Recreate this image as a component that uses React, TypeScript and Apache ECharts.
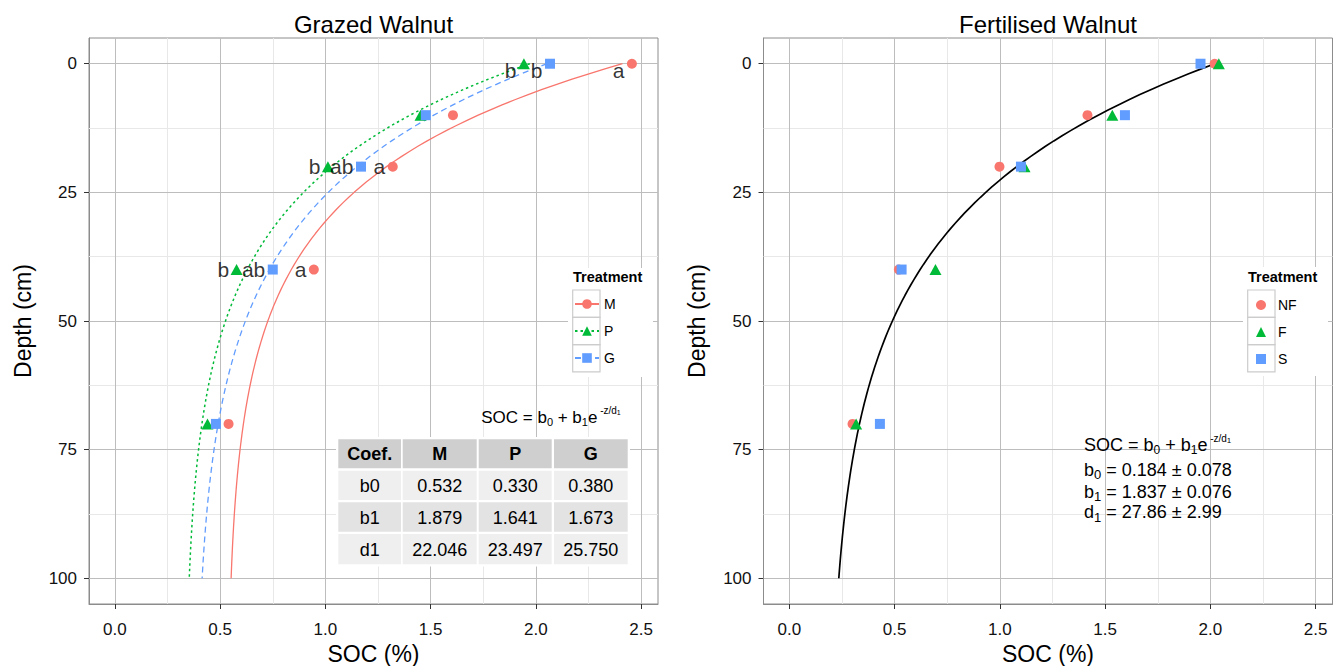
import React, { useEffect, useRef } from 'react';
import * as echarts from 'echarts';

// ---------------- data ----------------
const depths = [0, 10, 20, 40, 70];
const grazedM = [2.456, 1.606, 1.32, 0.945, 0.54];
const grazedP = [1.943, 1.452, 1.012, 0.578, 0.44];
const grazedG = [2.067, 1.477, 1.169, 0.75, 0.48];
const lettersM = ['a', '', 'a', 'a', ''];
const lettersP = ['b', '', 'b', 'b', ''];
const lettersG = ['b', '', 'ab', 'ab', ''];
const fertNF = [2.02, 1.416, 0.998, 0.52, 0.3];
const fertF = [2.04, 1.534, 1.117, 0.694, 0.317];
const fertS = [1.953, 1.594, 1.1, 0.533, 0.43];

const coefNames = ['b0', 'b1', 'd1'];
const coefM = [0.532, 1.879, 22.046];
const coefP = [0.33, 1.641, 23.497];
const coefG = [0.38, 1.673, 25.75];
const fertEst = [0.184, 1.837, 27.86];
const fertSE = [0.078, 0.076, 2.99];
const fertDigits = [3, 3, 2];

const socTicks = [0, 0.5, 1, 1.5, 2, 2.5];
const socMinor = [0.25, 0.75, 1.25, 1.75, 2.25];
const depthTicks = [0, 25, 50, 75, 100];
const depthMinor = [12.5, 37.5, 62.5, 87.5];
// depths at which the fitted model SOC = b0 + b1 e^(-z/d1) is drawn
const fitDepths = Array.from({ length: 101 }, (_, i) => i);

// ---------------- styles ----------------
const FONT = "'Liberation Sans', Arial, Helvetica, sans-serif";
const RED = '#F8766D';
const GREEN = '#00BA38';
const BLUE = '#619CFF';
const MAJOR = '#bdbdbd';
const MINOR = '#e8e8e8';

const fitCurve = (c: number[]) => fitDepths.map((z) => [c[0] + c[1] * Math.exp(-z / c[2]), z]);
const pts = (soc: number[]) => depths.map((d, i) => [soc[i], d]);

const gridMarks = [
  ...socMinor.map((v) => ({ xAxis: v, lineStyle: { color: MINOR, type: 'solid', width: 1 } })),
  ...depthMinor.map((v) => ({ yAxis: v, lineStyle: { color: MINOR, type: 'solid', width: 1 } })),
  ...socTicks.map((v) => ({ xAxis: v, lineStyle: { color: MAJOR, type: 'solid', width: 1 } })),
  ...depthTicks.map((v) => ({ yAxis: v, lineStyle: { color: MAJOR, type: 'solid', width: 1 } })),
];

const markLine = {
  silent: true,
  symbol: ['none', 'none'],
  label: { show: false },
  z: 1,
  animation: false,
  lineStyle: { type: 'solid', width: 1 },
  emphasis: { disabled: true },
  data: gridMarks,
};

const grids = [
  { left: 89, top: 38, width: 569, height: 566 },
  { left: 763.5, top: 38, width: 569, height: 566 },
];

const xAxisFor = (i: number) => ({
  type: 'value',
  gridIndex: i,
  min: -0.123,
  max: 2.58,
  position: 'bottom',
  name: 'SOC (%)',
  nameLocation: 'middle',
  nameGap: 35,
  nameTextStyle: { fontSize: 23, color: '#000', fontFamily: FONT },
  axisLine: { show: true, onZero: false, lineStyle: { color: '#8c8c8c', width: 1 } },
  axisTick: { show: true, customValues: socTicks, length: 5, lineStyle: { color: '#333' } },
  axisLabel: {
    customValues: socTicks,
    formatter: (v: number) => v.toFixed(1),
    fontSize: 17,
    color: '#111',
    margin: 17,
    fontFamily: FONT,
  },
  splitLine: { show: false },
});

const yAxisFor = (i: number) => ({
  type: 'value',
  gridIndex: i,
  inverse: true,
  min: -5,
  max: 105,
  name: 'Depth (cm)',
  nameLocation: 'middle',
  nameGap: 55,
  nameRotate: 90,
  nameTextStyle: { fontSize: 23, color: '#000', fontFamily: FONT },
  axisLine: { show: true, onZero: false, lineStyle: { color: '#8c8c8c', width: 1 } },
  axisTick: { show: true, customValues: depthTicks, length: 5, lineStyle: { color: '#333' } },
  axisLabel: {
    customValues: depthTicks,
    formatter: (v: number) => String(v),
    fontSize: 17,
    color: '#111',
    margin: 12,
    fontFamily: FONT,
  },
  splitLine: { show: false },
});

const letterSeries = (soc: number[], letters: string[]) => ({
  type: 'scatter',
  name: 'letters',
  xAxisIndex: 0,
  yAxisIndex: 0,
  symbol: 'circle',
  symbolSize: 1,
  itemStyle: { color: 'rgba(0,0,0,0)' },
  silent: true,
  z: 6,
  label: {
    show: true,
    position: 'left',
    distance: 7,
    formatter: '{b}',
    fontSize: 21,
    color: '#000',
    fontFamily: FONT,
  },
  data: depths
    .map((d, i) => ({
      name: letters[i],
      value: [soc[i], d],
      label: { offset: [0, d === 0 ? 7 : 0] },
    }))
    .filter((it) => it.name !== ''),
});

// ---------------- graphic (titles, legend boxes, table, equations) ----------------
const txt = (x: number, y: number, text: string, extra: any = {}) => ({
  type: 'text',
  x,
  y,
  z: 10,
  silent: true,
  style: {
    text,
    fill: '#000',
    fontFamily: FONT,
    fontSize: 17,
    align: 'center',
    verticalAlign: 'middle',
    ...extra,
  },
});

const keyBoxes = (x0: number, y0: number) =>
  [0, 1, 2].map((k) => ({
    type: 'rect',
    z: 10,
    silent: true,
    shape: { x: x0, y: y0 + k * 27.3, width: 27.3, height: 27.3 },
    style: { fill: 'none', stroke: '#cccccc', lineWidth: 1.2 },
  }));

const tableCols = [
  [338.3, 401],
  [402.7, 476.7],
  [478.7, 551.7],
  [554, 627.7],
];
const tableRows = [
  [439.3, 468.3],
  [470.7, 500],
  [502.3, 531.7],
  [534, 564.3],
];
const rowFill = ['#cfcfcf', '#efefef', '#e3e3e3', '#efefef'];
const tableHeader = ['Coef.', 'M', 'P', 'G'];
const tableBody = coefNames.map((n, r) => [n, coefM[r].toFixed(3), coefP[r].toFixed(3), coefG[r].toFixed(3)]);

const tableElements: any[] = [
  {
    type: 'rect',
    z: 8,
    silent: true,
    shape: { x: 336, y: 437, width: 294, height: 129.5 },
    style: { fill: '#ffffff' },
  },
];
[tableHeader, ...tableBody].forEach((row, r) => {
  row.forEach((cell, c) => {
    const [x0, x1] = tableCols[c];
    const [y0, y1] = tableRows[r];
    tableElements.push({
      type: 'rect',
      z: 9,
      silent: true,
      shape: { x: x0, y: y0, width: x1 - x0, height: y1 - y0 },
      style: { fill: rowFill[r] },
    });
    tableElements.push(
      txt((x0 + x1) / 2, (y0 + y1) / 2 + 0.5, cell, {
        fontSize: 18,
        fontWeight: r === 0 ? 'bold' : 'normal',
      })
    );
  });
});

const eqRich = (main: number) => ({
  n: { fontSize: main, fontFamily: FONT, fill: '#000' },
  s: { fontSize: Math.round(main * 0.65), fontFamily: FONT, fill: '#000', padding: [9, 0, 0, 0] },
  p: { fontSize: Math.round(main * 0.58), fontFamily: FONT, fill: '#000', padding: [0, 0, 13, 0] },
  q: { fontSize: Math.round(main * 0.42), fontFamily: FONT, fill: '#000', padding: [0, 0, 9, 0] },
  t: { fontSize: Math.round(main * 0.7), fontFamily: FONT, fill: '#000', padding: [10, 0, 0, 0] },
});
const eqText = '{n|SOC = b}{s|0}{n| + b}{s|1}{n|e}{p| -z/d}{q|1}';

const fertLines = coefNames.map(
  (n, r) =>
    `{n|${n[0]}}{t|${n[1]}}{n| = ${fertEst[r].toFixed(fertDigits[r])} \u00B1 ${fertSE[r].toFixed(fertDigits[r])}}`
);

const graphicElements: any[] = [
  txt(373.5, 24, 'Grazed Walnut', { fontSize: 24 }),
  txt(1048, 24, 'Fertilised Walnut', { fontSize: 24 }),
  // legend backgrounds
  { type: 'rect', z: 3, silent: true, shape: { x: 568, y: 268, width: 85, height: 109 }, style: { fill: '#fff' } },
  { type: 'rect', z: 3, silent: true, shape: { x: 1243, y: 267, width: 85, height: 109 }, style: { fill: '#fff' } },
  ...keyBoxes(572.7, 290),
  ...keyBoxes(1247.7, 290),
  txt(573, 277, 'Treatment', { fontSize: 14.5, fontWeight: 'bold', align: 'left' }),
  txt(1248, 277, 'Treatment', { fontSize: 14.5, fontWeight: 'bold', align: 'left' }),
  ...tableElements,
  txt(551, 417, eqText, { rich: eqRich(17) }),
  txt(1084, 445, eqText, { rich: eqRich(18), align: 'left' }),
  ...fertLines.map((l, i) => txt(1084, [469.7, 491.7, 512][i], l, { rich: eqRich(18), align: 'left' })),
];

// ---------------- option ----------------
const option: any = {
  animation: false,
  backgroundColor: '#ffffff',
  textStyle: { fontFamily: FONT },
  grid: grids.map((g) => ({
    ...g,
    show: true,
    borderColor: '#8c8c8c',
    borderWidth: 1,
    backgroundColor: 'transparent',
    containLabel: false,
    outerBoundsMode: 'none',
  })),
  xAxis: [xAxisFor(0), xAxisFor(1)],
  yAxis: [yAxisFor(0), yAxisFor(1)],
  legend: [
    {
      data: ['M', 'P', 'G'],
      orient: 'vertical',
      left: 574,
      top: 297,
      padding: 0,
      itemWidth: 24,
      itemHeight: 12,
      itemGap: 13,
      selectedMode: false,
      textStyle: { fontSize: 14, lineHeight: 14, color: '#000', fontFamily: FONT },
    },
    {
      data: ['NF', 'F', 'S'],
      orient: 'vertical',
      left: 1256,
      top: 298,
      padding: 0,
      itemWidth: 10,
      itemHeight: 10,
      itemGap: 13,
      selectedMode: false,
      textStyle: { fontSize: 14, lineHeight: 14, color: '#000', fontFamily: FONT, padding: [0, 0, 0, 7] },
    },
  ],
  series: [
    // ----- Grazed Walnut -----
    {
      type: 'line',
      name: 'M',
      xAxisIndex: 0,
      yAxisIndex: 0,
      data: fitCurve(coefM),
      showSymbol: false,
      symbol: 'circle',
      symbolSize: 10,
      smooth: false,
      silent: true,
      z: 3,
      itemStyle: { color: RED },
      lineStyle: { color: RED, width: 1.3, type: 'solid' },
      markLine,
    },
    {
      type: 'line',
      name: 'P',
      xAxisIndex: 0,
      yAxisIndex: 0,
      data: fitCurve(coefP),
      showSymbol: false,
      symbol: 'triangle',
      symbolSize: 10,
      silent: true,
      z: 3,
      itemStyle: { color: GREEN },
      lineStyle: { color: GREEN, width: 1.5, type: [2.5, 3] },
    },
    {
      type: 'line',
      name: 'G',
      xAxisIndex: 0,
      yAxisIndex: 0,
      data: fitCurve(coefG),
      showSymbol: false,
      symbol: 'rect',
      symbolSize: 10,
      silent: true,
      z: 3,
      itemStyle: { color: BLUE },
      lineStyle: { color: BLUE, width: 1.3, type: [6, 4] },
    },
    {
      type: 'scatter',
      name: 'M points',
      xAxisIndex: 0,
      yAxisIndex: 0,
      symbol: 'circle',
      symbolSize: 10,
      z: 4,
      itemStyle: { color: RED, opacity: 1 },
      data: pts(grazedM),
    },
    {
      type: 'scatter',
      name: 'P points',
      xAxisIndex: 0,
      yAxisIndex: 0,
      symbol: 'triangle',
      symbolSize: [12, 11],
      z: 4,
      itemStyle: { color: GREEN, opacity: 1 },
      data: pts(grazedP),
    },
    {
      type: 'scatter',
      name: 'G points',
      xAxisIndex: 0,
      yAxisIndex: 0,
      symbol: 'rect',
      symbolSize: 10,
      z: 4,
      itemStyle: { color: BLUE, opacity: 1 },
      data: pts(grazedG),
    },
    letterSeries(grazedM, lettersM),
    letterSeries(grazedP, lettersP),
    letterSeries(grazedG, lettersG),
    // ----- Fertilised Walnut -----
    {
      type: 'line',
      name: 'fit',
      xAxisIndex: 1,
      yAxisIndex: 1,
      data: fitCurve(fertEst),
      showSymbol: false,
      silent: true,
      z: 3,
      lineStyle: { color: '#000', width: 1.7, type: 'solid' },
      markLine,
    },
    {
      type: 'scatter',
      name: 'NF',
      xAxisIndex: 1,
      yAxisIndex: 1,
      symbol: 'circle',
      symbolSize: 10,
      z: 4,
      itemStyle: { color: RED, opacity: 1 },
      data: pts(fertNF),
    },
    {
      type: 'scatter',
      name: 'F',
      xAxisIndex: 1,
      yAxisIndex: 1,
      symbol: 'triangle',
      symbolSize: [12, 11],
      z: 4,
      itemStyle: { color: GREEN, opacity: 1 },
      data: pts(fertF),
    },
    {
      type: 'scatter',
      name: 'S',
      xAxisIndex: 1,
      yAxisIndex: 1,
      symbol: 'rect',
      symbolSize: 10,
      z: 4,
      itemStyle: { color: BLUE, opacity: 1 },
      data: pts(fertS),
    },
  ],
  graphic: { elements: graphicElements },
};

export default function App() {
  const ref = useRef<HTMLDivElement>(null);
  useEffect(() => {
    if (!ref.current) return;
    const chart = echarts.init(ref.current, undefined, { renderer: 'svg' });
    chart.setOption(option);
    return () => chart.dispose();
  }, []);
  return (
    <div
      ref={ref}
      style={{ position: 'fixed', left: 0, top: 0, width: 1344, height: 666, background: '#fff' }}
    />
  );
}
